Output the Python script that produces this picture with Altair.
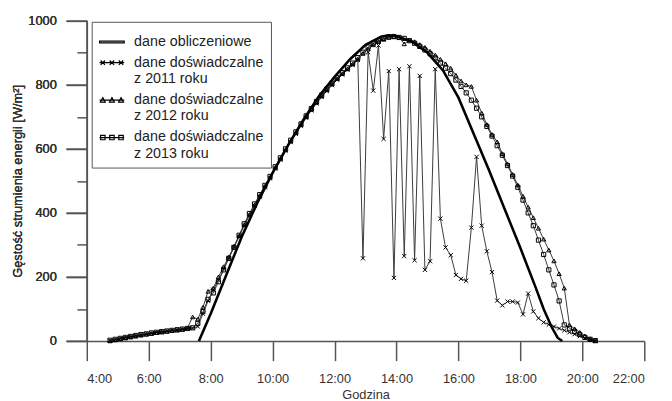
import altair as alt
import pandas as pd

# measurement times (minutes after midnight, every 10 min from 4:45 to 20:25)
minutes = list(range(285, 1226, 10))

v2011 = [1, 4, 7, 10, 13, 16, 19, 21, 24, 26, 28, 30, 32, 34, 36, 38, 40,
         45, 85, 125, 160, 190, 225, 258, 292, 325, 360, 392, 422, 451, 480, 508,
         538, 566, 594, 621, 647, 672, 697, 720, 742, 762, 781, 799, 816, 832, 847, 862,
         878, 258, 902, 782, 923, 631, 843, 197, 849, 265, 858, 252, 828, 222, 249, 849,
         382, 292, 268, 206, 194, 188, 354, 575, 360, 280, 215, 126, 111, 123, 123, 120,
         83, 148, 92, 71, 58, 51, 45, 39, 33, 27, 21, 15, 9, 4, 0]

v2012 = [0, 3, 6, 9, 12, 15, 18, 21, 23, 26, 28, 30, 32, 34, 36, 40, 75,
         68, 105, 155, 165, 200, 232, 262, 296, 328, 363, 395, 425, 454, 483, 511,
         541, 569, 597, 624, 650, 675, 700, 723, 745, 765, 784, 802, 819, 835, 850, 865,
         880, 898, 912, 925, 935, 942, 948, 950, 948, 928, 940, 935, 926, 917, 905, 893,
         880, 866, 852, 830, 812, 800, 795, 752, 712, 676, 645, 622, 585, 553, 520, 487,
         452, 418, 385, 352, 318, 284, 250, 210, 165, 50, 38, 27, 16, 7, 1]

v2013 = [2, 5, 8, 11, 14, 17, 20, 22, 25, 27, 29, 31, 33, 35, 37, 39, 41,
         55, 92, 130, 150, 185, 222, 258, 292, 330, 366, 398, 428, 457, 486, 514,
         544, 572, 600, 627, 653, 678, 703, 726, 748, 768, 787, 805, 822, 838, 853, 868,
         885, 902, 918, 930, 938, 945, 950, 951, 948, 945, 938, 930, 920, 909, 897, 884,
         868, 852, 835, 815, 795, 775, 752, 727, 700, 670, 640, 610, 580, 548, 515, 480,
         440, 400, 360, 315, 270, 222, 175, 125, 50, 40, 30, 20, 11, 5, 1]

calc_hours = [7.62, 8.0, 8.5, 9.0, 9.5, 10.0, 10.5, 11.0, 11.5, 12.0, 12.5, 13.0, 13.5,
              13.75, 14.0, 14.5, 15.0, 15.5, 16.0, 16.5, 17.0, 17.5, 18.0, 18.5, 18.75,
              19.0, 19.2, 19.35]
calc_vals = [0, 85, 205, 325, 430, 525, 612, 692, 765, 825, 880, 925, 950,
             955, 952, 935, 900, 845, 760, 645, 530, 410, 290, 165, 100,
             45, 10, 0]

series_keys = ["calc", "2011", "2012", "2013"]

rows = []
for key, vals in (("2011", v2011), ("2012", v2012), ("2013", v2013)):
    for m, v in zip(minutes, vals):
        rows.append({"series": key, "hour": m / 60.0, "value": v})
exp_df = pd.DataFrame(rows)
calc_df = pd.DataFrame({"series": "calc", "hour": calc_hours, "value": calc_vals})

FONT = "Liberation Sans"
x_scale = alt.Scale(domain=[4, 22], nice=False)
y_scale = alt.Scale(domain=[0, 1000], nice=False)

x_axis = alt.Axis(values=[4, 6, 8, 10, 12, 14, 16, 18, 20, 22],
                  labelExpr="datum.value + ':00'", title="Godzina",
                  tickSize=20, labelPadding=12, titlePadding=3, grid=False)
y_axis = alt.Axis(values=[0, 200, 400, 600, 800, 1000], tickSize=21, labelPadding=10,
                  format="d",
                  title="Gęstość strumienia energii [W/m²]", titlePadding=3,
                  grid=False, orient="left")
y_minor = alt.Axis(values=[100, 300, 500, 700, 900], tickSize=10, labels=False,
                   domain=False, title=None, grid=False, orient="left")

X = alt.X("hour:Q", scale=x_scale, axis=x_axis)
Y = alt.Y("value:Q", scale=y_scale, axis=y_axis)

exp_lines = alt.Chart(exp_df).mark_line(color="#3a3a3a", strokeWidth=1).encode(
    x=X, y=Y, detail="series:N")

calc_line = alt.Chart(calc_df).mark_line(color="black", strokeWidth=2.6).encode(
    x=X, y=Y)

marker_shapes = ["M-1,-1L1,1M-1,1L1,-1", "triangle-up", "square"]
exp_points = alt.Chart(exp_df).mark_point(
    color="black", filled=False, strokeWidth=1, size=18, opacity=1
).encode(
    x=X, y=Y,
    shape=alt.Shape("series:N", scale=alt.Scale(domain=["2011", "2012", "2013"],
                                                range=marker_shapes), legend=None),
)

legend_paths = [
    "M-1,-0.07L1,-0.07L1,0.07L-1,0.07Z",
    "M-1,0L1,0M-0.92,-0.18L-0.56,0.18M-0.92,0.18L-0.56,-0.18M-0.18,-0.18L0.18,0.18M-0.18,0.18L0.18,-0.18M0.56,-0.18L0.92,0.18M0.56,0.18L0.92,-0.18",
    "M-1,0L1,0M-0.74,-0.2L-0.54,0.16L-0.94,0.16ZM0,-0.2L0.2,0.16L-0.2,0.16ZM0.74,-0.2L0.94,0.16L0.54,0.16Z",
    "M-1,0L1,0M-0.92,-0.18L-0.56,-0.18L-0.56,0.18L-0.92,0.18ZM-0.18,-0.18L0.18,-0.18L0.18,0.18L-0.18,0.18ZM0.56,-0.18L0.92,-0.18L0.92,0.18L0.56,0.18Z",
]
legend_layer = alt.Chart(exp_df).transform_filter("false").mark_point(
    color="black", filled=False, strokeWidth=1.2, opacity=1
).encode(
    x=X,
    y=alt.Y("value:Q", scale=y_scale, axis=y_minor),
    shape=alt.Shape("series:N",
                    scale=alt.Scale(domain=series_keys, range=legend_paths),
                    legend=alt.Legend(
                        title=None, orient="none", legendX=5, legendY=1,
                        symbolSize=625, symbolStrokeWidth=1.2,
                        symbolStrokeColor="black", symbolOpacity=1,
                        labelExpr="datum.value == 'calc' ? 'dane obliczeniowe' : ['dane doświadczalne', 'z ' + datum.value + ' roku']",
                        labelFont=FONT, labelFontSize=14.5, labelColor="#222",
                        labelOffset=9, rowPadding=1, padding=7,
                        strokeColor="#555", fillColor="white",
                    )),
)

chart = alt.layer(exp_lines, calc_line, exp_points, legend_layer).resolve_scale(
    shape="independent"
).resolve_axis(y="independent").properties(
    width=566, height=325,
    autosize=alt.AutoSizeParams(type="none"),
    padding={"left": 80, "top": 10, "right": 20, "bottom": 60},
).configure_view(stroke=None).configure_axis(
    domainColor="#555", tickColor="#555", domainWidth=1.5, tickWidth=1.5,
    labelFont=FONT, labelFontSize=13, labelColor="#333",
    titleFont=FONT, titleFontSize=13, titleColor="#333", titleFontWeight="normal",
)

chart.save("out.html", embed_options={"renderer": "svg", "actions": False})
